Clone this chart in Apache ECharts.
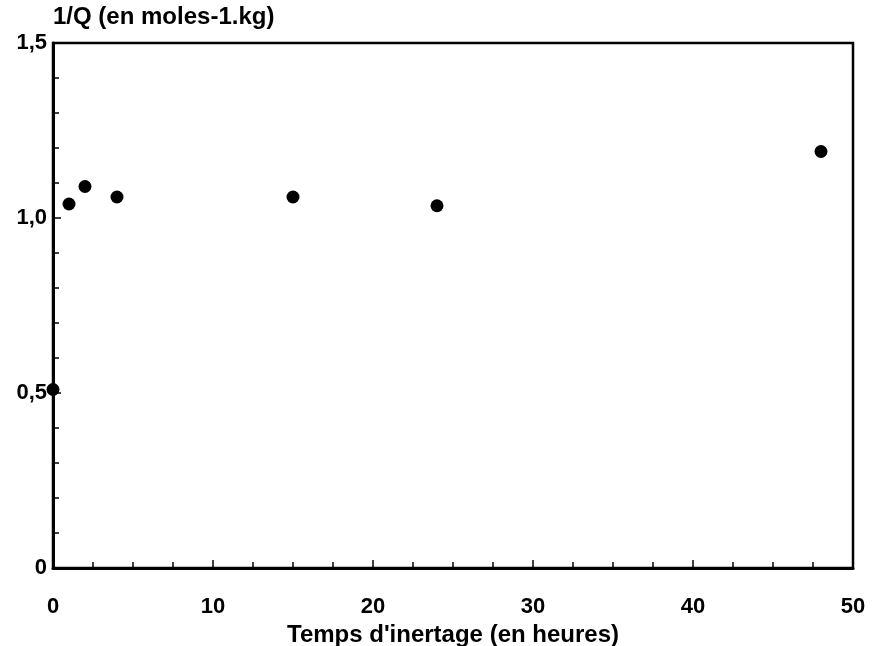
<!DOCTYPE html>
<html>
<head>
<meta charset="utf-8">
<script src="https://cdn.jsdelivr.net/npm/echarts@6/dist/echarts.min.js"></script>
<style>
  html, body { margin: 0; padding: 0; background: #fff; }
  #container { width: 876px; height: 646px; }
</style>
</head>
<body>
<div id="container"></div>
<script>
var hours = [0, 1, 2, 4, 15, 24, 48];
var invQ = [0.51, 1.04, 1.09, 1.06, 1.06, 1.035, 1.19];

var dom = document.getElementById("container");
var myChart = echarts.init(dom);

var points = [];
for (var i = 0; i < hours.length; i++) {
    points.push([hours[i], invQ[i]]);
}

var font = 'Liberation Sans, Arial, sans-serif';

var option = {
    backgroundColor: '#fff',
    animation: false,
    grid: {
        left: 53,
        right: 23,
        top: 43,
        bottom: 78,
        outerBoundsMode: 'none',
        show: true,
        borderColor: '#000',
        borderWidth: 2.5,
        backgroundColor: 'transparent'
    },
    xAxis: {
        type: 'value',
        min: 0,
        max: 50,
        interval: 10,
        name: "Temps d'inertage (en heures)",
        nameLocation: 'middle',
        nameGap: 53,
        nameTextStyle: { color: '#000', fontSize: 24, fontWeight: 'bold', fontFamily: font },
        axisLine: { lineStyle: { color: '#000', width: 3 } },
        axisTick: { inside: true, length: 8, lineStyle: { color: '#000', width: 1.5 } },
        minorTick: { show: true, splitNumber: 4, length: 6, lineStyle: { color: '#000', width: 1.5 } },
        axisLabel: { color: '#000', fontSize: 22, fontWeight: 'bold', fontFamily: font, margin: 28 },
        splitLine: { show: false }
    },
    yAxis: {
        type: 'value',
        min: 0,
        max: 1.5,
        interval: 0.5,
        name: '1/Q (en moles-1.kg)',
        nameLocation: 'end',
        nameGap: 14,
        nameTextStyle: { color: '#000', fontSize: 24, fontWeight: 'bold', fontFamily: font, align: 'left' },
        axisLine: { lineStyle: { color: '#000', width: 3 } },
        axisTick: { inside: true, length: 8, lineStyle: { color: '#000', width: 1.5 } },
        minorTick: { show: true, splitNumber: 5, length: 6, lineStyle: { color: '#000', width: 1.5 } },
        axisLabel: {
            color: '#000', fontSize: 22, fontWeight: 'bold', fontFamily: font, margin: 6,
            formatter: function (v) { return v === 0 ? '0' : v.toFixed(1).replace('.', ','); }
        },
        splitLine: { show: false }
    },
    series: [{
        type: 'scatter',
        data: points,
        symbol: 'circle',
        symbolSize: 13,
        clip: false,
        itemStyle: { color: '#000', opacity: 1 }
    }]
};

myChart.setOption(option);
</script>
</body>
</html>
